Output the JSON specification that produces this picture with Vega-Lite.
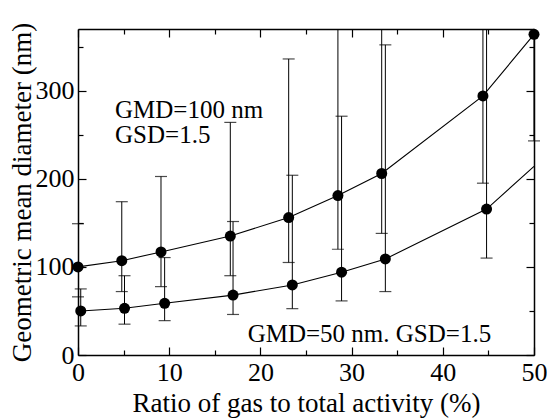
{
  "$schema": "https://vega.github.io/schema/vega-lite/v6.json",
  "width": 456,
  "height": 326,
  "autosize": "none",
  "padding": {"left": 78, "top": 29, "right": 13, "bottom": 65},
  "background": "white",
  "config": {
    "font": "'Liberation Serif', 'Times New Roman', Times, serif",
    "view": {"stroke": null},
    "axis": {
      "grid": false,
      "labelFont": "'Liberation Serif', 'Times New Roman', Times, serif",
      "titleFont": "'Liberation Serif', 'Times New Roman', Times, serif",
      "labelFontSize": 26,
      "titleFontSize": 27,
      "labelColor": "black",
      "titleColor": "black",
      "titleFontWeight": "normal",
      "domainColor": "black",
      "tickColor": "black",
      "domainWidth": 1.5,
      "tickWidth": 1.2,
      "labelFlush": false,
      "labelOverlap": false
    }
  },
  "datasets": {
    "pts": [
      {"series": "GMD=100", "x": 0, "y": 100, "lo": 66, "hi": 149},
      {"series": "GMD=100", "x": 4.8, "y": 107, "lo": 72, "hi": 174},
      {"series": "GMD=100", "x": 9.1, "y": 117, "lo": 77.6, "hi": 202.6},
      {"series": "GMD=100", "x": 16.7, "y": 135, "lo": 90, "hi": 264},
      {"series": "GMD=100", "x": 23.1, "y": 156, "lo": 105, "hi": 336},
      {"series": "GMD=100", "x": 28.5, "y": 181, "lo": 120, "hi": 425},
      {"series": "GMD=100", "x": 33.3, "y": 206, "lo": 138, "hi": 480},
      {"series": "GMD=100", "x": 44.4, "y": 294, "lo": 195, "hi": 700},
      {"series": "GMD=100", "x": 50, "y": 364, "lo": 243, "hi": 900},
      {"series": "GMD=50", "x": 0.3, "y": 50, "lo": 33, "hi": 75},
      {"series": "GMD=50", "x": 5.1, "y": 53, "lo": 35, "hi": 90},
      {"series": "GMD=50", "x": 9.5, "y": 58.7, "lo": 39, "hi": 110.6},
      {"series": "GMD=50", "x": 17, "y": 68, "lo": 46, "hi": 151.5},
      {"series": "GMD=50", "x": 23.5, "y": 79.5, "lo": 52.6, "hi": 204},
      {"series": "GMD=50", "x": 28.9, "y": 94, "lo": 61.4, "hi": 271},
      {"series": "GMD=50", "x": 33.7, "y": 109, "lo": 72, "hi": 352},
      {"series": "GMD=50", "x": 44.8, "y": 165.6, "lo": 110, "hi": 600},
      {"series": "GMD=50", "x": 50, "y": 214, "lo": null, "hi": null}
    ],
    "notes": [
      {"x": 4.06, "y": 269, "text": "GMD=100 nm"},
      {"x": 4.06, "y": 241, "text": "GSD=1.5"},
      {"x": 18.6, "y": 15, "text": "GMD=50 nm. GSD=1.5"}
    ]
  },
  "layer": [
    {
      "data": {"name": "pts"},
      "transform": [{"filter": "datum.lo != null"}],
      "mark": {"type": "rule", "color": "black", "strokeWidth": 1, "clip": true},
      "encoding": {
        "x": {
          "field": "x", "type": "quantitative",
          "scale": {"domain": [0, 50], "nice": false, "zero": false},
          "axis": {"orient": "bottom", "values": [0, 10, 20, 30, 40, 50], "ticks": false, "domain": true, "labelPadding": 4, "title": "Ratio of gas to total activity (%)", "titlePadding": 5}
        },
        "y": {
          "field": "lo", "type": "quantitative",
          "scale": {"domain": [0, 370], "nice": false, "zero": false},
          "axis": {"orient": "left", "values": [0, 100, 200, 300], "ticks": false, "domain": true, "labelPadding": 4, "title": "Geometric mean diameter (nm)", "titlePadding": -1}
        },
        "y2": {"field": "hi"}
      }
    },
    {
      "data": {"name": "pts"},
      "transform": [{"filter": "datum.lo != null"}],
      "mark": {"type": "tick", "orient": "horizontal", "color": "black", "size": 12, "thickness": 1.2},
      "encoding": {
        "x": {"field": "x", "type": "quantitative", "axis": {"orient": "bottom", "values": [0, 10, 20, 30, 40, 50], "labels": false, "domain": false, "tickSize": -8, "title": null}},
        "y": {"field": "lo", "type": "quantitative", "axis": {"orient": "left", "values": [0, 100, 200, 300], "labels": false, "domain": false, "tickSize": -8, "title": null}}
      }
    },
    {
      "data": {"name": "pts"},
      "transform": [{"filter": "datum.hi != null && datum.hi <= 370"}],
      "mark": {"type": "tick", "orient": "horizontal", "color": "black", "size": 12, "thickness": 1.2},
      "encoding": {
        "x": {"field": "x", "type": "quantitative", "axis": {"orient": "bottom", "values": [5, 15, 25, 35, 45], "labels": false, "domain": false, "tickSize": -5, "title": null}},
        "y": {"field": "hi", "type": "quantitative", "axis": {"orient": "left", "values": [50, 150, 250, 350], "labels": false, "domain": false, "tickSize": -5, "title": null}}
      }
    },
    {
      "data": {"name": "pts"},
      "mark": {"type": "line", "color": "black", "strokeWidth": 1.1},
      "encoding": {
        "x": {"field": "x", "type": "quantitative", "axis": {"orient": "top", "values": [0, 10, 20, 30, 40, 50], "labels": false, "domain": true, "tickSize": -8, "title": null}},
        "y": {"field": "y", "type": "quantitative", "axis": {"orient": "right", "values": [0, 100, 200, 300], "labels": false, "domain": true, "tickSize": -8, "title": null}},
        "detail": {"field": "series"},
        "order": {"field": "x"}
      }
    },
    {
      "data": {"name": "pts"},
      "transform": [{"filter": "datum.lo != null"}],
      "mark": {"type": "point", "shape": "circle", "filled": true, "color": "black", "opacity": 1, "size": 121},
      "encoding": {
        "x": {"field": "x", "type": "quantitative", "axis": {"orient": "top", "values": [5, 15, 25, 35, 45], "labels": false, "domain": false, "tickSize": -5, "title": null}},
        "y": {"field": "y", "type": "quantitative", "axis": {"orient": "right", "values": [50, 150, 250, 350], "labels": false, "domain": false, "tickSize": -5, "title": null}}
      }
    },
    {
      "data": {"name": "notes"},
      "mark": {"type": "text", "align": "left", "baseline": "alphabetic", "font": "'Liberation Serif', 'Times New Roman', Times, serif", "fontSize": 25, "color": "black"},
      "encoding": {
        "x": {"field": "x", "type": "quantitative", "axis": null},
        "y": {"field": "y", "type": "quantitative", "axis": null},
        "text": {"field": "text"}
      }
    }
  ],
  "resolve": {"axis": {"x": "independent", "y": "independent"}}
}
